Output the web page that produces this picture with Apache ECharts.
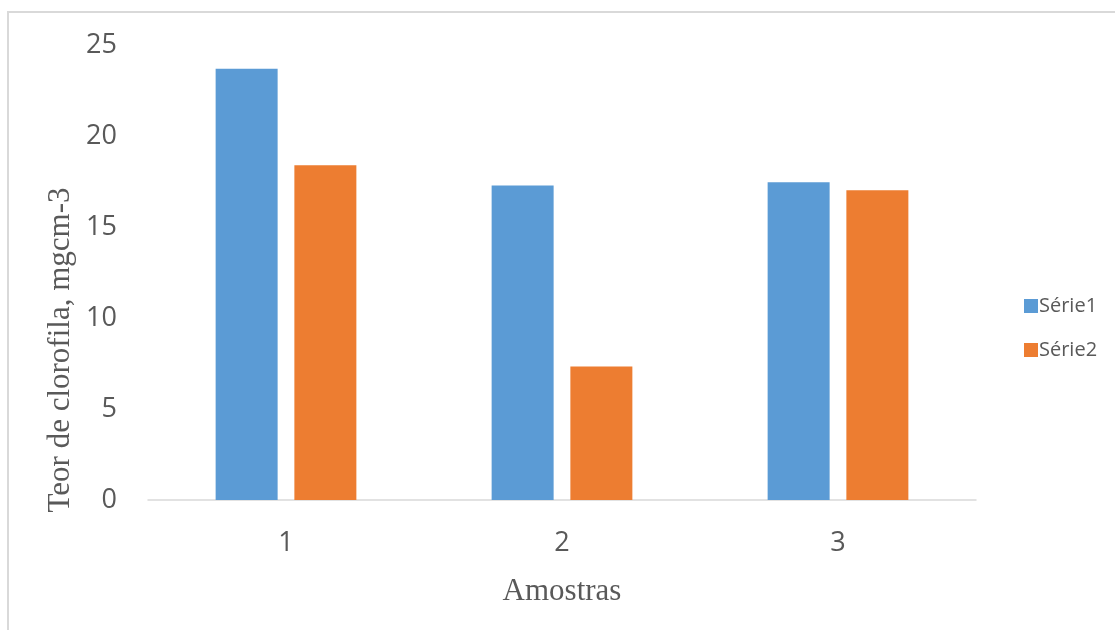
<!DOCTYPE html>
<html>
<head>
<meta charset="utf-8">
<script src="https://cdn.jsdelivr.net/npm/echarts@6/dist/echarts.min.js"></script>
<style>
  html, body { margin: 0; padding: 0; background: #ffffff; }
  #chart { width: 1115px; height: 630px; }
</style>
</head>
<body>
<div id="chart"></div>
<script>
// Chlorophyll content per sample, two series
const categories = ['1', '2', '3'];
const serie1 = [23.72, 17.30, 17.48];
const serie2 = [18.41, 7.34, 17.04];
const seriesNames = ['Série1', 'Série2'];
const yTicks = { min: 0, max: 25, interval: 5 };

const textColor = '#595959';
const chart = echarts.init(document.getElementById('chart'), null, { renderer: 'canvas' });

chart.setOption({
  backgroundColor: '#ffffff',
  animation: false,
  color: ['#5B9BD5', '#ED7D31'],
  grid: { left: 148, right: 139, top: 45.5, bottom: 130, containLabel: false },
  legend: {
    orient: 'vertical',
    left: 1019,
    top: 291,
    itemWidth: 14,
    itemHeight: 14,
    itemGap: 24,
    icon: 'rect',
    data: seriesNames,
    textStyle: { color: textColor, fontSize: 20, fontFamily: 'Open Sans', padding: [0, 0, 0, -4] }
  },
  xAxis: {
    type: 'category',
    data: categories,
    axisLine: { lineStyle: { color: '#d9d9d9', width: 1.5 } },
    axisTick: { show: false },
    axisLabel: { color: textColor, fontSize: 27, fontFamily: 'Open Sans', margin: 30 },
    name: 'Amostras',
    nameLocation: 'middle',
    nameGap: 76,
    nameTextStyle: { color: textColor, fontSize: 31, fontFamily: 'Liberation Serif' }
  },
  yAxis: {
    type: 'value',
    min: yTicks.min,
    max: yTicks.max,
    interval: yTicks.interval,
    splitLine: { show: false },
    axisLine: { show: false },
    axisTick: { show: false },
    axisLabel: { color: textColor, fontSize: 27, fontFamily: 'Open Sans', margin: 31 }
  },
  graphic: [
    {
      type: 'rect',
      shape: { x: 8, y: 12, width: 1120, height: 640 },
      style: { fill: 'none', stroke: '#d9d9d9', lineWidth: 2 },
      silent: true
    },
    {
      type: 'text',
      x: 61,
      y: 350,
      rotation: Math.PI / 2,
      style: {
        text: 'Teor de clorofila, mgcm-3',
        fill: textColor,
        fontSize: 31,
        fontFamily: 'Liberation Serif',
        align: 'center',
        verticalAlign: 'middle'
      }
    }
  ],
  series: [
    {
      name: seriesNames[0],
      type: 'bar',
      data: serie1,
      barWidth: 62,
      barGap: '27%'
    },
    {
      name: seriesNames[1],
      type: 'bar',
      data: serie2,
      barWidth: 62,
      barGap: '27%'
    }
  ]
});
</script>
</body>
</html>
